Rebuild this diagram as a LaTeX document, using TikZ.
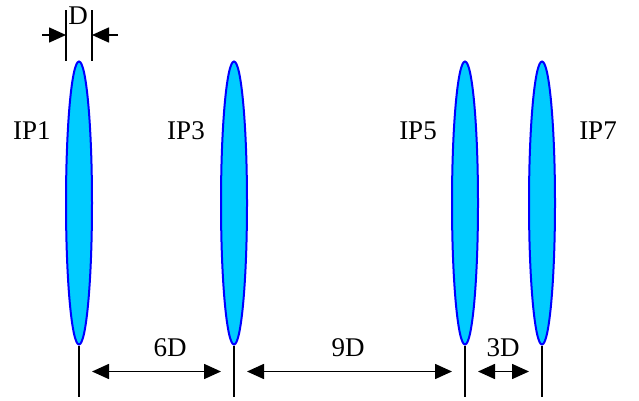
\documentclass[tikz,border=0pt]{standalone}
\usepackage{fontspec}
\setmainfont{Liberation Serif}
\usetikzlibrary{arrows.meta,shapes.geometric}
\definecolor{LensFill}{HTML}{00CCFF}
\definecolor{LensEdge}{HTML}{0000FF}

\begin{document}
\begin{tikzpicture}[x=1pt, y=-1pt, >={Triangle[length=17pt,width=15pt]},
    lens/.style={ellipse, draw=LensEdge, fill=LensFill, line width=2pt,
      minimum width=26pt, minimum height=283pt, inner sep=0pt},
    stem/.style={line width=1.5pt},
    dimline/.style={<->, line width=1.6pt},
    lbl/.style={font=\fontsize{27}{30}\selectfont, inner sep=0pt}]
  \useasboundingbox (0,0) rectangle (639,401);
  % lenses
  \node[lens] (ip1) at (79,203) {};
  \node[lens] (ip3) at (234,203) {};
  \node[lens] (ip5) at (465,203) {};
  \node[lens] (ip7) at (542,203) {};
  \node[lbl] (l1) at (32,131) {IP1};
  \node[lbl] (l3) at (186,131) {IP3};
  \node[lbl] (l5) at (418,131) {IP5};
  \node[lbl] (l7) at (598,131) {IP7};
  % stems below the lenses
  \foreach \n in {ip1,ip3,ip5,ip7} {
    \coordinate (\n-end) at ([yshift=-51pt]\n.south);
    \draw[stem] (\n.south) -- (\n-end);
    \coordinate (\n-arr) at ([yshift=-26pt]\n.south);
  }
  % spacings
  \draw[dimline] ([xshift=13pt]ip1-arr) -- ([xshift=-13pt]ip3-arr);
  \draw[dimline] ([xshift=13pt]ip3-arr) -- ([xshift=-13pt]ip5-arr);
  \draw[dimline] ([xshift=13pt]ip5-arr) -- ([xshift=-13pt]ip7-arr);
  \node[lbl] (s6) at (170,348) {6D};
  \node[lbl] (s9) at (348,348) {9D};
  \node[lbl] (s3) at (503,348) {3D};
  % lens thickness D
  \coordinate (dl) at (66,61);
  \coordinate (dr) at (92,61);
  \draw[stem] (dl) -- ++(0,-51);
  \draw[stem] (dr) -- ++(0,-51);
  \coordinate (al) at (42,35);
  \coordinate (ar) at (118,35);
  \draw[->, line width=1.6pt] (al) -- (al -| dl);
  \draw[->, line width=1.6pt] (ar) -- (ar -| dr);
  \node[lbl] (dd) at (78,16) {D};
\end{tikzpicture}
\end{document}
